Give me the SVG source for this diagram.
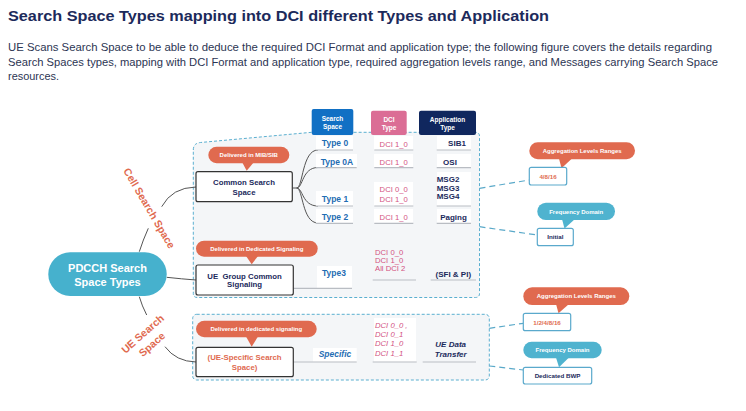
<svg xmlns="http://www.w3.org/2000/svg" width="746" height="411" viewBox="0 0 746 411">
<style>
text{font-family:"Liberation Sans",Arial,sans-serif}
.title{font-size:15.5px;font-weight:bold;fill:#1c2a5b}
.para{font-size:11.5px;fill:#2c3553}
.hdr{font-size:6.5px;font-weight:bold;fill:#fff;text-anchor:middle}
.cont{fill:#f4f6f8;stroke:#5aafd0;stroke-width:1;stroke-dasharray:3 2}
.conn{fill:none;stroke:#5aa9c9;stroke-width:1.2;stroke-dasharray:6 4}
.branch{fill:none;stroke:#555;stroke-width:1}
.uline{stroke:#b9bdc3;stroke-width:1.2}
.cell{fill:#fff}
.ss{font-size:8.5px;font-weight:bold;fill:#1f6db3;text-anchor:middle}
.dci{font-size:7.7px;fill:#d3527f}
.app{font-size:8px;font-weight:bold;fill:#1b2a5c;text-anchor:middle}
.node{fill:#fff;stroke:#333;stroke-width:1.2}
.ntxt{font-size:7.8px;font-weight:bold;fill:#1b2a5c;text-anchor:middle}
.orange{fill:#e06a4f}
.teal{fill:#4fb3cf}
.ctxt{font-size:6px;font-weight:bold;fill:#fff;text-anchor:middle}
.sbox{fill:#fff;stroke:#5aa9cc;stroke-width:1.2}
.stxt{font-size:6.2px;font-weight:bold;text-anchor:middle}
.rot{font-size:10.5px;font-weight:bold;fill:#e06a4f;text-anchor:middle}
</style>

<text class="title" x="8" y="21" textLength="541" lengthAdjust="spacingAndGlyphs">Search Space Types mapping into DCI different Types and Application</text>
<text class="para" x="8" y="50.5" textLength="704" lengthAdjust="spacingAndGlyphs">UE Scans Search Space to be able to deduce the required DCI Format and application type; the following figure covers the details regarding</text>
<text class="para" x="8" y="65.5" textLength="710" lengthAdjust="spacingAndGlyphs">Search Spaces types, mapping with DCI Format and application type, required aggregation levels range, and Messages carrying Search Space</text>
<text class="para" x="8" y="80" textLength="51" lengthAdjust="spacingAndGlyphs">resources.</text>

<g id="containers">
<path class="cont" d="M193.3,150 Q193.3,143.2 200.5,142.5 L311.7,132.3 L475.5,132.3 Q479.5,132.3 479.5,136.3 L479.5,293.5 Q479.5,297.5 475.5,297.5 L197.3,297.5 Q193.3,297.5 193.3,293.5 Z"/>
<rect class="cont" x="192.7" y="314.3" width="296.6" height="65.7" rx="4"/>
</g>

<g id="connectors">
<path class="branch" d="M139.3,251.7 Q143,240 148.3,228.3"/>
<path class="branch" d="M161.7,206.7 Q172,187.5 196,187"/>
<path class="branch" d="M166.7,277.3 Q182,279 196,280"/>
<path class="branch" d="M139.3,296.7 Q142,306 146.7,315"/>
<path class="branch" d="M165,346.7 Q176,361.5 196,362"/>
<path class="branch" d="M292.3,188 L296.7,188 C303,188 302,150 318,150"/>
<path class="branch" d="M296.7,188 C303,188 302,167.5 318,167.5"/>
<path class="branch" d="M296.7,188 C303,188 302,206 318,206"/>
<path class="branch" d="M296.7,188 C303,188 302,223 318,223"/>
<path class="conn" d="M479.5,188.3 L529.3,180"/>
<path class="conn" d="M479.5,226.7 L537.3,235"/>
<path class="conn" d="M489.3,328.3 L523.3,323.3"/>
<path class="conn" d="M489.3,366 L523.3,370"/>
</g>

<g id="headers">
<rect x="311.7" y="109" width="41.6" height="26" rx="2" fill="#1170c4"/>
<text class="hdr" x="332.5" y="121.3">Search</text>
<text class="hdr" x="332.5" y="129">Space</text>
<rect x="371" y="110.7" width="35.7" height="24.3" rx="2" fill="#db6d95"/>
<text class="hdr" x="389" y="122.3">DCI</text>
<text class="hdr" x="389" y="130">Type</text>
<rect x="419" y="110.7" width="57" height="24.3" rx="2" fill="#10275e"/>
<text class="hdr" x="447.5" y="122.3">Application</text>
<text class="hdr" x="447.5" y="130.3">Type</text>
</g>

<g id="table-cells">
<rect class="cell" x="316" y="136" width="37" height="14"/>
<rect class="cell" x="374" y="136" width="39" height="14"/>
<rect class="cell" x="437" y="136" width="34" height="14"/>
<rect class="cell" x="316" y="154" width="41" height="13.5"/>
<rect class="cell" x="374" y="154" width="39" height="13.5"/>
<rect class="cell" x="437" y="154" width="34" height="13.5"/>
<rect class="cell" x="316" y="191" width="37" height="15"/>
<rect class="cell" x="374" y="182" width="39" height="24"/>
<rect class="cell" x="437" y="172" width="34" height="34"/>
<rect class="cell" x="316" y="209" width="37" height="14"/>
<rect class="cell" x="374" y="209" width="39" height="14"/>
<rect class="cell" x="437" y="209" width="34" height="14"/>
<line class="uline" x1="316" y1="150" x2="353" y2="150"/>
<line class="uline" x1="374.3" y1="150" x2="413.3" y2="150"/>
<line class="uline" x1="436.7" y1="150" x2="471" y2="150"/>
<line class="uline" x1="316" y1="167.7" x2="356.7" y2="167.7"/>
<line class="uline" x1="374.3" y1="167.7" x2="413.3" y2="167.7"/>
<line class="uline" x1="436.7" y1="167.7" x2="471" y2="167.7"/>
<line class="uline" x1="316" y1="206" x2="353" y2="206"/>
<line class="uline" x1="374.3" y1="206" x2="413.3" y2="206"/>
<line class="uline" x1="436.7" y1="206" x2="471" y2="206"/>
<line class="uline" x1="316" y1="223.3" x2="353" y2="223.3"/>
<line class="uline" x1="374.3" y1="223.3" x2="413.3" y2="223.3"/>
<line class="uline" x1="436.7" y1="223.3" x2="471" y2="223.3"/>
<text class="ss" x="335" y="146.3">Type 0</text>
<text class="dci" x="393.7" y="146.5" text-anchor="middle">DCI 1_0</text>
<text class="app" x="457" y="146.3">SIB1</text>
<text class="ss" x="337" y="164.5">Type 0A</text>
<text class="dci" x="393.7" y="164.5" text-anchor="middle">DCI 1_0</text>
<text class="app" x="450" y="164.5">OSI</text>
<text class="ss" x="335" y="202">Type 1</text>
<text class="dci" x="393.7" y="192" text-anchor="middle">DCI 0_0</text>
<text class="dci" x="393.7" y="202" text-anchor="middle">DCI 1_0</text>
<text class="app" x="448" y="182">MSG2</text>
<text class="app" x="448" y="190.5">MSG3</text>
<text class="app" x="448" y="199">MSG4</text>
<text class="ss" x="335" y="219.5">Type 2</text>
<text class="dci" x="393.7" y="220" text-anchor="middle">DCI 1_0</text>
<text class="app" x="453.5" y="219.5">Paging</text>

<rect class="cell" x="317" y="266" width="35" height="22"/>
<line class="uline" x1="293.3" y1="288.3" x2="352" y2="288.3"/>
<line class="uline" x1="372.7" y1="280" x2="416" y2="280"/>
<line class="uline" x1="430.7" y1="280" x2="476" y2="280"/>
<text class="ss" x="334" y="276.3">Type3</text>
<text class="dci" x="375" y="254.5" font-size="7.2">DCI 0_0</text>
<text class="dci" x="375" y="262.5" font-size="7.2">DCI 1_0</text>
<text class="dci" x="375" y="270.5" font-size="7.2">All DCI 2</text>
<text class="app" x="453.3" y="277">(SFI &amp; PI)</text>

<rect class="cell" x="313" y="348" width="43.7" height="13.7"/>
<rect class="cell" x="374" y="318" width="42" height="43.7"/>
<line class="uline" x1="293.3" y1="362" x2="356.7" y2="362"/>
<line class="uline" x1="372.7" y1="362" x2="416.7" y2="362"/>
<line class="uline" x1="422.7" y1="362" x2="476" y2="362"/>
<text class="ss" x="335" y="357.3" font-style="italic">Specific</text>
<text class="dci" x="375" y="327.7" font-style="italic">DCI 0_0 ,</text>
<text class="dci" x="375" y="337.3" font-style="italic">DCI 0_1</text>
<text class="dci" x="375" y="346" font-style="italic">DCI 1_0</text>
<text class="dci" x="375" y="355.5" font-style="italic">DCI 1_1</text>
<text class="app" x="450.7" y="347" font-style="italic">UE Data</text>
<text class="app" x="450.7" y="357" font-style="italic">Transfer</text>
</g>

<g id="pdcch">
<rect x="48.3" y="252.3" width="118.4" height="43.7" rx="21.8" fill="#46b1cd"/>
<text x="107.5" y="272.2" font-size="11" font-weight="bold" fill="#fff" text-anchor="middle">PDCCH Search</text>
<text x="107.5" y="285.6" font-size="11" font-weight="bold" fill="#fff" text-anchor="middle">Space Types</text>
</g>

<g id="label-cell">
<text class="rot" transform="translate(149.2,208.3) rotate(59.6)" y="3.6">Cell Search Space</text>
</g>
<g id="label-ue">
<text class="rot" font-size="11" transform="translate(147.1,338.8) rotate(-41.3)"><tspan x="0" y="-3">UE Search</tspan><tspan x="0" y="11">Space</tspan></text>
</g>

<g id="common-search-space">
<rect class="node" x="196" y="171.7" width="96.3" height="30" rx="2"/>
<text class="ntxt" x="244" y="184.6">Common Search</text>
<text class="ntxt" x="244" y="194.6">Space</text>
</g>
<g id="ue-group-common">
<rect class="node" x="196" y="265" width="97.3" height="30" rx="2"/>
<text class="ntxt" x="244.6" y="279.3" font-size="7.5" xml:space="preserve">UE  Group Common</text>
<text class="ntxt" x="244.6" y="287" font-size="7.5">Signaling</text>
</g>
<g id="ue-specific">
<rect class="node" x="196" y="347.3" width="97.3" height="29.4" rx="2"/>
<text class="ntxt" x="244.6" y="359.6" font-size="8" style="fill:#e06a4f">(UE-Specific Search</text>
<text class="ntxt" x="244.6" y="369.6" font-size="8" style="fill:#e06a4f">Space)</text>
</g>

<g id="callout-mib">
<rect class="orange" x="208.3" y="146.7" width="81" height="16.6" rx="8.3"/>
<path class="orange" d="M242,162 L254,162 L246.7,170.7 Z"/>
<text class="ctxt" x="248.8" y="157.2">Delivered in MIB/SIB</text>
</g>
<g id="callout-dedicated-1">
<rect class="orange" x="196" y="240.7" width="121.7" height="16" rx="8"/>
<path class="orange" d="M246,256 L258,256 L251.7,264.3 Z"/>
<text class="ctxt" x="256.8" y="250.9">Delivered in Dedicated Signaling</text>
</g>
<g id="callout-dedicated-2">
<rect class="orange" x="196" y="320.7" width="120.7" height="16.6" rx="8.3"/>
<path class="orange" d="M246,336.5 L258,336.5 L251.7,346.7 Z"/>
<text class="ctxt" x="256.3" y="331.2">Delivered in dedicated signaling</text>
</g>

<g id="agg-1">
<rect class="orange" x="529.3" y="142.3" width="105.7" height="17" rx="8.5"/>
<path class="orange" d="M559,158.5 L572,158.5 L561.5,168.3 Z"/>
<text class="ctxt" x="582.2" y="153">Aggregation Levels Ranges</text>
<rect class="sbox" x="529.3" y="167.3" width="37.4" height="17.7" rx="2"/>
<text class="stxt" x="548" y="178.5" fill="#e06a4f">4/8/16</text>
</g>
<g id="freq-1">
<rect class="teal" x="537.3" y="202.7" width="77.7" height="17.3" rx="8.6"/>
<path class="teal" d="M562,219 L575,219 L564.5,228.5 Z"/>
<text class="ctxt" x="576.2" y="213.5">Frequency Domain</text>
<rect class="sbox" x="537.3" y="228.3" width="36" height="17.4" rx="2"/>
<text class="stxt" x="555.3" y="239" fill="#1b2a5c">Initial</text>
</g>
<g id="agg-2">
<rect class="orange" x="523.3" y="287.3" width="106" height="17.7" rx="8.8"/>
<path class="orange" d="M556,304 L569,304 L558.5,313.3 Z"/>
<text class="ctxt" x="576.3" y="298.4">Aggregation Levels Ranges</text>
<rect class="sbox" x="523.3" y="313.3" width="47.4" height="17.4" rx="2"/>
<text class="stxt" x="547" y="324.6" fill="#e06a4f">1/2/4/8/16</text>
</g>
<g id="freq-2">
<rect class="teal" x="523.3" y="341.7" width="78.4" height="16.6" rx="8.3"/>
<path class="teal" d="M556,357.5 L569,357.5 L559,367.3 Z"/>
<text class="ctxt" x="562.5" y="352.2">Frequency Domain</text>
<rect class="sbox" x="523.3" y="367.3" width="68.4" height="16.7" rx="2"/>
<text class="stxt" x="557.5" y="378" fill="#1b2a5c">Dedicated BWP</text>
</g>
</svg>
